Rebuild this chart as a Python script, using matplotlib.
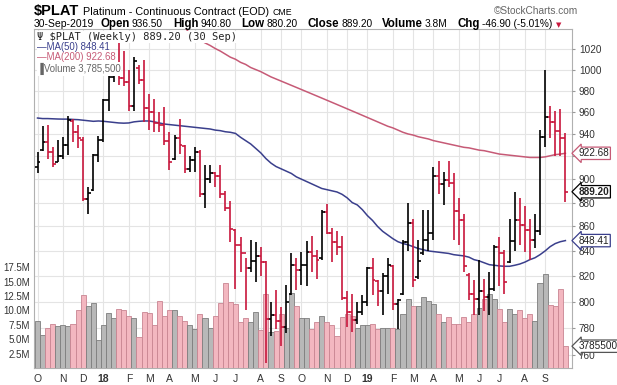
import numpy as np
import matplotlib
matplotlib.use("Agg")
import matplotlib.pyplot as plt
from matplotlib.transforms import blended_transform_factory

# weekly bars, 2-Oct-2017 .. 30-Sep-2019
opens = [911, 926, 933, 924, 915, 920, 930, 952, 942, 935, 883, 891, 921, 935, 971, 993, 1005, 992, 988, 966,
         1002, 990, 964, 960, 950, 948, 934, 918, 936, 929, 909, 917, 924, 887, 900, 905, 903, 887, 875, 857,
         845, 838, 826, 832, 836, 831, 787, 790, 785, 781, 806, 829, 825, 829, 839, 836, 834, 872, 855, 847,
         843, 803, 792, 786, 792, 800, 826, 816, 808, 820, 828, 798, 806, 847, 863, 819, 838, 849, 855, 903,
         896, 899, 897, 873, 865, 821, 806, 802, 808, 804, 810, 843, 838, 831, 848, 865, 861, 857, 849, 856,
         937, 955, 951, 943, 936.5]
highs = [924, 947, 948, 928, 935, 937, 956, 954, 948, 937, 893, 922, 938, 972, 995, 1010, 1029, 1018, 1000, 1012,
         1004, 1009, 977, 972, 960, 965, 942, 939, 954, 930, 920, 928, 926, 912, 912, 906, 912, 890, 881, 858,
         851, 834, 849, 847, 843, 832, 800, 809, 796, 813, 838, 834, 839, 848, 852, 841, 874, 879, 859, 856,
         852, 808, 806, 800, 805, 827, 834, 817, 822, 834, 829, 802, 849, 880, 866, 849, 874, 874, 911, 916,
         906, 916, 905, 884, 870, 822, 817, 833, 818, 823, 845, 851, 841, 866, 889, 884, 877, 866, 870, 944,
         1000, 966, 961, 963, 940.8]
lows = [905, 925, 918, 911, 915, 918, 921, 933, 927, 881, 870, 890, 915, 933, 961, 988, 985, 984, 961, 961,
        986, 951, 944, 942, 942, 930, 908, 917, 922, 905, 906, 906, 885, 875, 897, 893, 884, 873, 847, 810,
        823, 794, 823, 815, 820, 754, 774, 779, 767, 776, 805, 809, 813, 812, 823, 818, 833, 854, 831, 837,
        801, 781, 777, 783, 790, 797, 805, 797, 790, 806, 794, 779, 805, 840, 811, 818, 837, 840, 849, 887,
        878, 893, 849, 845, 823, 801, 790, 790, 793, 790, 808, 812, 806, 830, 840, 845, 839, 833, 842, 853,
        928, 936, 920, 920, 880.2]
closes = [915, 933, 924, 913, 920, 930, 953, 942, 936, 883, 888, 921, 935, 971, 993, 1005, 992, 988, 966, 1008,
          990, 964, 960, 950, 948, 934, 915, 936, 930, 909, 917, 924, 887, 900, 905, 903, 887, 875, 858, 845,
          838, 826, 832, 836, 831, 787, 790, 785, 781, 800, 829, 825, 829, 839, 836, 833, 872, 855, 847, 843,
          803, 792, 786, 792, 800, 826, 817, 808, 820, 829, 798, 801, 847, 863, 817, 832, 849, 855, 903, 896,
          899, 897, 873, 865, 828, 806, 802, 808, 804, 810, 843, 838, 815, 848, 865, 861, 857, 849, 856, 937,
          955, 951, 943, 936.1, 889.2]
volume_m = [8.2, 5.8, 7.0, 7.7, 7.3, 7.5, 7.3, 7.7, 10.0, 12.7, 10.8, 11.2, 4.9, 7.5, 9.6, 8.6, 10.3, 10.1, 9.1, 8.7,
            5.3, 9.8, 9.6, 7.5, 11.7, 9.1, 10.1, 10.1, 9.1, 8.2, 7.5, 6.8, 9.4, 8.6, 7.0, 9.1, 11.3, 14.8, 11.5, 11.1,
            7.9, 8.6, 7.9, 9.8, 6.6, 12.9, 6.2, 6.5, 9.4, 7.0, 13.1, 10.8, 8.6, 8.6, 6.8, 7.9, 9.1, 7.9, 7.4, 5.6,
            8.8, 9.4, 9.1, 7.0, 7.5, 7.5, 7.6, 6.8, 7.0, 7.0, 7.0, 6.8, 9.4, 12.0, 10.7, 10.7, 12.4, 11.7, 11.1, 9.4,
            7.9, 8.8, 7.6, 7.6, 8.8, 7.9, 9.4, 10.5, 12.0, 12.9, 11.9, 10.3, 7.9, 10.3, 9.4, 10.0, 8.6, 9.4, 8.2, 14.8,
            16.4, 11.0, 10.8, 13.8, 3.7855]
ma50 = [954.5, 954, 954, 953.8, 953.6, 953.5, 953.5, 953.2, 953, 952.5, 952, 951.5, 951.8, 951.5, 951, 950.5, 950, 949.8, 950, 951,
        951.5, 951.8, 951.8, 951, 950, 949, 948.5, 948, 947.5, 947, 946.5, 946, 945.5, 945, 944.5, 943.5, 943, 942, 941.5, 940.5,
        937, 934, 931, 927, 923, 918, 914, 911, 909, 907, 905, 902, 900, 898, 896, 894, 892, 891, 890, 889,
        887, 884, 880, 878, 874, 869, 865, 860, 856, 853, 850, 847.5, 846, 845, 843.5, 842, 841, 840, 839.5, 839,
        838.5, 838, 837, 836.5, 836, 835, 833, 832, 830.5, 829, 828.5, 828, 827.7, 827.7, 828.5, 829.5, 831, 833, 834.5, 837,
        840, 843.5, 846, 847.5, 848.41]
nan = float("nan")
ma200 = [nan] * 29 + [1042, 1035, 1032, 1029, 1026, 1023.5, 1020.5, 1018, 1015, 1012, 1010,
         1007, 1005, 1002, 1000, 998, 995.5, 993, 991, 989, 987, 985, 983, 981, 979, 977, 975, 973, 971, 969, 967,
         965, 963, 961, 959, 957, 955, 953, 951, 949, 947, 945.5, 943.5, 941.5, 940, 939, 937.5, 936.5, 935.5, 934, 933,
         932, 931, 930, 929, 928, 927.5, 926.5, 925.5, 925, 924, 923, 922, 921.5, 921, 920.5, 920, 919.5, 919, 919, 919,
         919.5, 920.5, 921.5, 922, 922.68]
month_bars = [0, 5, 9, 13, 18, 22, 26, 31, 35, 39, 44, 48, 52, 57, 61, 65, 70, 74, 78, 83, 87, 91, 96, 100]
month_labels = ["O", "N", "D", "18", "F", "M", "A", "M", "J", "J", "A", "S",
                "O", "N", "D", "19", "F", "M", "A", "M", "J", "J", "A", "S"]
price_ticks = [760, 780, 800, 820, 840, 860, 880, 900, 920, 940, 960, 980, 1000, 1020]
vol_ticks = [2.5, 5.0, 7.5, 10.0, 12.5, 15.0, 17.5]

W, H = 617, 385
UP, DOWN = "#000000", "#c8173c"
MA50_C, MA200_C = "#3a3f8c", "#c65a76"
GRID = "#e4e4e4"
SANS = "Liberation Sans"

x = np.arange(len(closes))
up = np.array([True] + [closes[i] >= closes[i - 1] for i in range(1, len(closes))])
bar_c = np.where(up, UP, DOWN)

fig = plt.figure(figsize=(W / 100, H / 100), dpi=100)
rect = [34 / W, 17 / H, 538 / W, 339 / H]
xlim = (-0.69, 105.3)
ylim = (750.6, 1039.8)

# background: grid
bg = fig.add_axes(rect)
bg.set_yscale("log")
bg.set_xlim(*xlim); bg.set_ylim(*ylim)
bg.set_yticks(price_ticks); bg.yaxis.set_minor_locator(plt.NullLocator())
bg.set_xticks(month_bars)
bg.grid(True, color=GRID, lw=0.8)
bg.tick_params(length=0, labelleft=False, labelbottom=False)
for s in bg.spines.values():
    s.set_color("#b0b0b0"); s.set_linewidth(0.8)

# volume
av = fig.add_axes(rect)
av.patch.set_visible(False)
av.set_xlim(*xlim); av.set_ylim(0, 58.85)
av.bar(x, volume_m, width=1.0, color=np.where(up, "#b8b8b8", "#f3b7c0"),
       edgecolor=np.where(up, "#7d7d7d", "#c98592"), linewidth=0.6, zorder=2)
av.set_yticks(vol_ticks)
av.set_yticklabels([f"{v:.1f}M" for v in vol_ticks], fontsize=7, family=SANS, color="#333333")
av.tick_params(axis="y", length=0, pad=3)
av.set_xticks([])
for s in av.spines.values():
    s.set_visible(False)

# price
ax = fig.add_axes(rect)
ax.patch.set_visible(False)
ax.set_yscale("log")
ax.set_xlim(*xlim); ax.set_ylim(*ylim)
ax.vlines(x, lows, highs, colors=bar_c, lw=1.2, zorder=3)
ax.hlines(opens, x - 0.55, x, colors=bar_c, lw=1.2, zorder=3)
ax.hlines(closes, x, x + 0.55, colors=bar_c, lw=1.2, zorder=3)
ax.plot(x, ma50, color=MA50_C, lw=1.1, zorder=2.5)
ax.plot(x, ma200, color=MA200_C, lw=1.1, zorder=2.5)
ax.yaxis.tick_right()
ax.set_yticks(price_ticks)
ax.yaxis.set_minor_locator(plt.NullLocator())
ax.set_yticklabels([str(p) for p in price_ticks], fontsize=7.2, family=SANS, color="#333333")
ax.tick_params(axis="y", length=2, color="#999999", pad=3)
ax.set_xticks(month_bars)
ax.set_xticklabels(month_labels, fontsize=7.5, family=SANS, color="#333333")
for lab in ax.get_xticklabels():
    if lab.get_text() in ("18", "19"):
        lab.set_fontweight("bold")
ax.tick_params(axis="x", length=0, pad=4)
for s in ax.spines.values():
    s.set_visible(False)

# value tags on the right
ty = ax.get_yaxis_transform()
def tag(val, txt, ec, trans, bold=False):
    ax.text(1.012, val, txt, transform=trans, fontsize=7.2, family=SANS, va="center", ha="left",
            fontweight="bold" if bold else "normal", color="#222222", clip_on=False, zorder=6,
            bbox=dict(boxstyle="larrow,pad=0.12", fc="white", ec=ec, lw=0.9))
tag(ma200[-1], f"{ma200[-1]:.2f}", MA200_C, ty)
tag(closes[-1], f"{closes[-1]:.2f}", "#000000", ty, bold=True)
tag(ma50[-1], f"{ma50[-1]:.2f}", MA50_C, ty)
tag(volume_m[-1], f"{volume_m[-1] * 1e6:.0f}", "#555555", blended_transform_factory(ax.transAxes, av.transData))

# in-chart legend
lg = dict(transform=fig.transFigure, va="center", ha="left", zorder=7,
          bbox=dict(boxstyle="square,pad=0.05", fc="white", ec="none"))
fig.text(37 / W, 1 - 37 / H, f"\u03a8 $PLAT (Weekly) {closes[-1]:.2f} (30 Sep)", fontsize=7.5,
         family="DejaVu Sans Mono", color="#222222", **lg)
fig.text(37 / W, 1 - 47 / H, f"\u2014MA(50) {ma50[-1]:.2f}", fontsize=6.9, family=SANS, color=MA50_C, **lg)
fig.text(37 / W, 1 - 57 / H, f"\u2014MA(200) {ma200[-1]:.2f}", fontsize=6.9, family=SANS, color=MA200_C, **lg)
fig.text(37 / W, 1 - 69 / H, f"\u2590Volume {volume_m[-1] * 1e6:,.0f}", fontsize=6.9, family=SANS,
         color="#666666", **lg)

# header
r = fig.canvas.get_renderer()
def row(items, x0, y):
    xx = x0
    for txt, kw, gap in items:
        t = fig.text(xx / W, 1 - y / H, txt, va="baseline", ha="left", **kw)
        xx += t.get_window_extent(r).width + gap

row([("$PLAT", dict(fontsize=10.5, fontweight="bold", family=SANS), 4),
     ("Platinum - Continuous Contract (EOD)", dict(fontsize=7.8, family=SANS), 3),
     ("CME", dict(fontsize=6.3, family=SANS), 0)], 34, 15)
fig.text(578 / W, 1 - 14 / H, "\u00a9StockCharts.com", fontsize=7.3, family=SANS, color="#666666",
         ha="right", va="baseline")
bold = dict(fontsize=8.3, fontweight="bold", family=SANS)
val = dict(fontsize=7.3, family=SANS)
row([("30-Sep-2019", dict(fontsize=7.5, family=SANS), 6),
     ("Open", bold, 2), ("936.50", val, 10),
     ("High", bold, 2), ("940.80", val, 10),
     ("Low", bold, 2), ("880.20", val, 10),
     ("Close", bold, 2), ("889.20", val, 10),
     ("Volume", bold, 2), ("3.8M", val, 10),
     ("Chg", bold, 2), ("-46.90 (-5.01%)", val, 4),
     ("\u25bc", dict(fontsize=5, family="DejaVu Sans", color="#c8173c"), 0)], 34, 27)

fig.savefig("out.png", dpi=100)
